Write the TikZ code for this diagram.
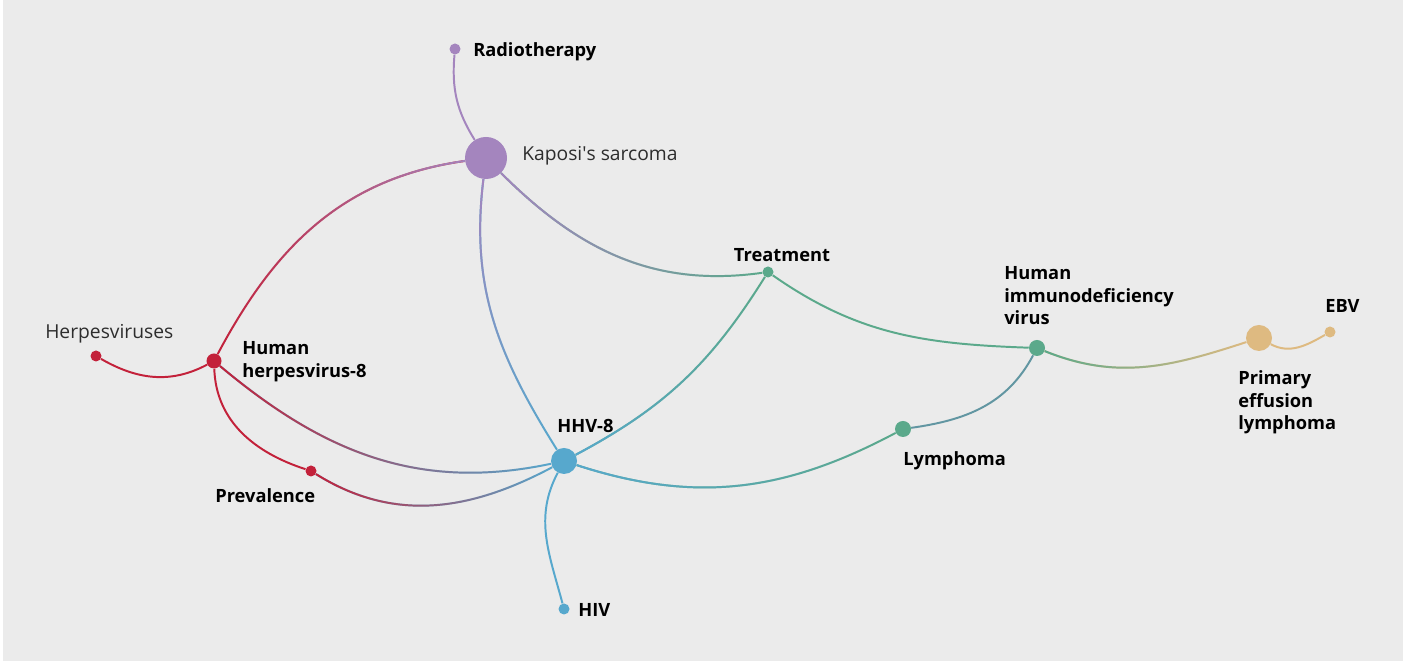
\documentclass[tikz,border=0pt]{standalone}
\usepackage{fontspec}
\setmainfont{Open Sans}
\usetikzlibrary{fadings}

\definecolor{bgcol}{RGB}{235,235,235}
\definecolor{kscol}{RGB}{164,133,190}
\definecolor{hhcol}{RGB}{195,33,58}
\definecolor{hvcol}{RGB}{87,168,205}
\definecolor{trcol}{RGB}{91,169,139}
\definecolor{plcol}{RGB}{222,186,129}
\definecolor{lycol}{RGB}{98,150,162}
\definecolor{labgray}{RGB}{45,45,45}

\begin{document}
\begin{tikzpicture}[x=0.025cm, y=0.025cm,
    dot/.style={circle, inner sep=0pt, minimum size=#1*0.025cm},
    link/.style={line width=1.4pt},
    blend/.style n args={3}{link, draw=#2, postaction={draw=#1, path fading=#3}},
    tag/.style={font=\fontsize{13}{16}\selectfont\bfseries, text=black, inner sep=0pt, align=left},
    softtag/.style={font=\fontsize{13.7}{16}\selectfont, text=labgray, inner sep=0pt}]

    % page
    \fill[white] (0, 0) rectangle (1421, 661);
    \fill[bgcol] (3, 0) rectangle (1403, 661);

    % dots
    \node[dot=42, fill=kscol] (kap) at (486, 503) {};
    \node[dot=11, fill=kscol] (rad) at (455, 612) {};
    \node[dot=15, fill=hhcol] (hh8) at (214, 300) {};
    \node[dot=11, fill=hhcol] (herp) at (96, 305) {};
    \node[dot=11, fill=hhcol] (prev) at (311, 190) {};
    \node[dot=26, fill=hvcol] (hhv) at (564, 200) {};
    \node[dot=11, fill=hvcol] (hiv) at (564, 52) {};
    \node[dot=11, fill=trcol] (treat) at (768, 389) {};
    \node[dot=16, fill=trcol] (lymph) at (903, 232) {};
    \node[dot=16, fill=trcol] (hivv) at (1037, 313) {};
    \node[dot=26, fill=plcol] (pel) at (1259, 323) {};
    \node[dot=11, fill=plcol] (ebv) at (1330, 329) {};

    % links
    \draw[link, kscol] (rad) to[out=-95, in=122] (kap);
    \draw[blend={kscol}{hhcol}{west}] (kap) to[out=188, in=62] (hh8);
    \draw[blend={kscol}{hvcol}{south}] (kap) to[out=-97, in=122] (hhv);
    \draw[blend={kscol}{trcol}{east}] (kap) to[out=-45, in=188] (treat);
    \draw[link, hhcol] (herp) to[out=-30, in=-152] (hh8);
    \draw[link, hhcol] (hh8) to[out=-88, in=162] (prev);
    \draw[blend={hhcol}{hvcol}{east}] (hh8) to[out=-40, in=192] (hhv);
    \draw[blend={hhcol}{hvcol}{east}] (prev) to[out=-32, in=-152] (hhv);
    \draw[link, hvcol] (hhv) to[out=-118, in=105] (hiv);
    \draw[blend={hvcol}{trcol}{east}] (hhv) to[out=28, in=-122] (treat);
    \draw[blend={hvcol}{trcol}{east}] (hhv) to[out=-18, in=-152] (lymph);
    \draw[link, trcol] (treat) to[out=-35, in=178] (hivv);
    \draw[link, lycol] (lymph) to[out=8, in=-118] (hivv);
    \draw[blend={trcol}{plcol}{east}] (hivv) to[out=-22, in=-162] (pel);
    \draw[link, plcol] (pel) to[out=-28, in=-150] (ebv);

    % labels
    \node[tag, anchor=west] (radlbl) at (473, 609.5) {Radiotherapy};
    \node[softtag, anchor=west] (kaplbl) at (522, 505.5) {Kaposi\textquotesingle s sarcoma};
    \node[tag] (treatlbl) at (782, 406) {Treatment};
    \node[tag, anchor=north west] (hivvlbl) at (1004, 394.5) {Human\\immunodeficiency\\virus};
    \node[tag, anchor=north west] (pellbl) at (1238, 290.5) {Primary\\effusion\\lymphoma};
    \node[tag, anchor=west] (ebvlbl) at (1325, 355) {EBV};
    \node[tag, anchor=west] (lymphlbl) at (903, 200.5) {Lymphoma};
    \node[tag, anchor=west] (hhvlbl) at (557, 235) {HHV-8};
    \node[tag, anchor=west] (hivlbl) at (578, 51) {HIV};
    \node[tag, anchor=west] (prevlbl) at (215, 165) {Prevalence};
    \node[tag, anchor=north west] (hh8lbl) at (242, 319.5) {Human\\herpesvirus-8};
    \node[softtag, anchor=west] (herplbl) at (45, 327.5) {Herpesviruses};
\end{tikzpicture}
\end{document}
